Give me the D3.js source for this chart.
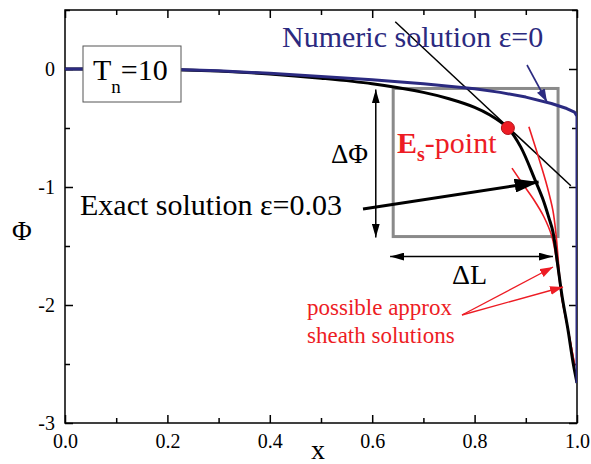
<!DOCTYPE html>
<html>
<head>
<meta charset="utf-8">
<script src="https://cdn.jsdelivr.net/npm/d3@7/dist/d3.min.js"></script>
<style>
  html, body { margin: 0; padding: 0; background: #fff; }
  svg { display: block; }
</style>
</head>
<body>
<svg id="chart" width="591" height="464"></svg>
<script>
// Axis ticks
const xMajorTicks = [0, 0.2, 0.4, 0.6, 0.8, 1.0];
const xMinorTicks = [0.1, 0.3, 0.5, 0.7, 0.9];
const yMajorTicks = [0, -1, -2, -3];
const yMinorTicks = [0.5, -0.5, -1.5, -2.5];

// Numeric solution, eps = 0
const numericX   = [0, 0.1, 0.2, 0.3, 0.4, 0.5, 0.6, 0.7, 0.8, 0.85, 0.9, 0.95, 0.98, 0.995, 1.0, 1.0, 1.0];
const numericPhi = [0, 0, -0.003, -0.015, -0.037, -0.063, -0.092, -0.125, -0.168, -0.198, -0.238, -0.292, -0.335, -0.365, -0.40, -1.5, -2.66];

// Exact solution, eps = 0.03
const exactX   = [0, 0.1, 0.2, 0.3, 0.4, 0.5, 0.6, 0.7, 0.75, 0.8, 0.83, 0.865, 0.89, 0.918, 0.934, 0.945, 0.953, 0.962, 0.971, 0.982, 0.992, 1.0];
const exactPhi = [0, 0, -0.004, -0.018, -0.042, -0.078, -0.125, -0.198, -0.252, -0.325, -0.39, -0.5, -0.66, -0.94, -1.11, -1.26, -1.38, -1.65, -1.93, -2.2, -2.48, -2.66];

// Approximate sheath solutions
const sheathAX   = [0.906, 0.925, 0.942, 0.953, 0.959, 0.964, 0.970, 0.983, 0.996];
const sheathAPhi = [-0.49, -0.75, -1.0, -1.2, -1.4, -1.65, -1.93, -2.22, -2.52];
const sheathBX   = [0.873, 0.895, 0.916, 0.935, 0.951, 0.961, 0.970, 0.983, 0.995];
const sheathBPhi = [-0.84, -0.98, -1.11, -1.25, -1.42, -1.65, -1.93, -2.22, -2.5];

// Tangent at the E_s point
const tangentX   = [0.645, 0.988];
const tangentPhi = [0.40, -0.99];
const esPointX = 0.865, esPointPhi = -0.5;

// Sheath region box and its extents
const boxX = [0.641, 0.963];
const boxPhi = [-0.165, -1.42];
const deltaPhiX = 0.607;
const deltaLPhi = -1.59;
const deltaLX = [0.635, 0.953];

const W = 591, H = 464;
const margin = { left: 65, right: 14, top: 10, bottom: 41 };
const FONT = "'Liberation Serif', 'DejaVu Serif', 'Times New Roman', serif";
const svg = d3.select("#chart").attr("font-family", FONT).style("font-family", FONT);

const x = d3.scaleLinear().domain([0, 1]).range([margin.left, W - margin.right]);
const y = d3.scaleLinear().domain([-3, 0.5]).range([H - margin.bottom, margin.top]);

const navy = "#2b2a80";
const red = "#ed1c24";
const grey = "#8a8a8a";

// Arrowhead markers
const defs = svg.append("defs");
function marker(id, color, w, h) {
  defs.append("marker")
    .attr("id", id)
    .attr("viewBox", `0 0 ${w} ${h}`)
    .attr("refX", w).attr("refY", h / 2)
    .attr("markerWidth", w).attr("markerHeight", h)
    .attr("markerUnits", "userSpaceOnUse")
    .attr("orient", "auto-start-reverse")
    .append("path")
    .attr("d", `M0,0 L${w},${h / 2} L0,${h} Z`)
    .attr("fill", color);
}
marker("arrBlack", "#000", 24, 14);
marker("arrDim", "#000", 14, 8);
marker("arrRed", red, 13, 9);
marker("arrNavy", navy, 13, 9);

defs.append("clipPath").attr("id", "plotClip")
  .append("rect")
  .attr("x", x(0)).attr("y", y(0.5))
  .attr("width", x(1) - x(0)).attr("height", y(-3) - y(0.5));

// Axes: ticks point inward on all four sides
const minusHyphen = f => v => f(v).replace("−", "-");
function drawAxis(gen, transform, major, minor, fmt, pad) {
  const g1 = svg.append("g").attr("transform", transform)
    .call(gen.tickValues(major).tickSizeInner(-8).tickSizeOuter(0).tickPadding(pad).tickFormat(fmt));
  const g2 = svg.append("g").attr("transform", transform)
    .call(gen.tickValues(minor).tickSizeInner(-5).tickSizeOuter(0).tickFormat(""));
  [g1, g2].forEach(g => {
    g.attr("font-family", FONT).attr("font-size", 20);
    g.select(".domain").remove();
    g.selectAll("line").attr("stroke", "#000").attr("stroke-width", 1.5);
    g.selectAll("text").style("font-family", FONT).attr("fill", "#000");
  });
  return g1;
}
drawAxis(d3.axisBottom(x), `translate(0,${y(-3)})`, xMajorTicks, xMinorTicks, minusHyphen(d3.format(".1f")), 11);
drawAxis(d3.axisTop(x), `translate(0,${y(0.5)})`, xMajorTicks, xMinorTicks, "", 0);
drawAxis(d3.axisLeft(y), `translate(${x(0)},0)`, yMajorTicks, yMinorTicks, minusHyphen(d3.format("d")), 10);
drawAxis(d3.axisRight(y), `translate(${x(1)},0)`, yMajorTicks, yMinorTicks, "", 0);

// Plot frame
svg.append("rect")
  .attr("x", x(0)).attr("y", y(0.5))
  .attr("width", x(1) - x(0)).attr("height", y(-3) - y(0.5))
  .attr("fill", "none").attr("stroke", "#000").attr("stroke-width", 1.5);

const plot = svg.append("g").attr("clip-path", "url(#plotClip)");
const smooth = d3.line().x(d => x(d[0])).y(d => y(d[1])).curve(d3.curveCatmullRom.alpha(0.5));
const straight = d3.line().x(d => x(d[0])).y(d => y(d[1]));
const zip = (a, b) => a.map((v, i) => [v, b[i]]);

// Sheath region box
plot.append("rect")
  .attr("x", x(boxX[0])).attr("y", y(boxPhi[0]))
  .attr("width", x(boxX[1]) - x(boxX[0])).attr("height", y(boxPhi[1]) - y(boxPhi[0]))
  .attr("fill", "none").attr("stroke", grey).attr("stroke-width", 3);

// Tangent line
plot.append("path").datum(zip(tangentX, tangentPhi))
  .attr("d", straight)
  .attr("fill", "none").attr("stroke", "#000").attr("stroke-width", 1.5);

// Approximate sheath solutions
[[sheathAX, sheathAPhi], [sheathBX, sheathBPhi]].forEach(([sx, sp]) => {
  plot.append("path").datum(zip(sx, sp))
    .attr("d", smooth).attr("fill", "none").attr("stroke", red).attr("stroke-width", 1.6);
});

// Exact solution
plot.append("path").datum(zip(exactX, exactPhi))
  .attr("d", smooth).attr("fill", "none").attr("stroke", "#000").attr("stroke-width", 3);

// Numeric solution
plot.append("path").datum(zip(numericX, numericPhi))
  .attr("d", straight)
  .attr("fill", "none").attr("stroke", navy).attr("stroke-width", 3).attr("stroke-linejoin", "round");

// E_s point
plot.append("circle")
  .attr("cx", x(esPointX)).attr("cy", y(esPointPhi)).attr("r", 6.5)
  .attr("fill", red).attr("stroke", "#b3121a").attr("stroke-width", 1);

// Dimension arrows
svg.append("line")
  .attr("x1", x(deltaPhiX)).attr("x2", x(deltaPhiX))
  .attr("y1", y(boxPhi[0]) + 1).attr("y2", y(boxPhi[1]) + 1)
  .attr("stroke", "#000").attr("stroke-width", 1.5)
  .attr("marker-start", "url(#arrDim)").attr("marker-end", "url(#arrDim)");
svg.append("line")
  .attr("x1", x(deltaLX[0])).attr("x2", x(deltaLX[1]))
  .attr("y1", y(deltaLPhi)).attr("y2", y(deltaLPhi))
  .attr("stroke", "#000").attr("stroke-width", 1.5)
  .attr("marker-start", "url(#arrDim)").attr("marker-end", "url(#arrDim)");

// Pointer arrows
svg.append("line")
  .attr("x1", 363).attr("y1", 209).attr("x2", x(0.925)).attr("y2", 182)
  .attr("stroke", "#000").attr("stroke-width", 3).attr("marker-end", "url(#arrBlack)");
svg.append("line")
  .attr("x1", 527).attr("y1", 65).attr("x2", 547).attr("y2", 102)
  .attr("stroke", navy).attr("stroke-width", 1.6).attr("marker-end", "url(#arrNavy)");
svg.append("line")
  .attr("x1", 462).attr("y1", 315).attr("x2", 553).attr("y2", 267)
  .attr("stroke", red).attr("stroke-width", 1.3).attr("marker-end", "url(#arrRed)");
svg.append("line")
  .attr("x1", 462).attr("y1", 315).attr("x2", 563).attr("y2", 287)
  .attr("stroke", red).attr("stroke-width", 1.3).attr("marker-end", "url(#arrRed)");

// Text helper
function label(xp, yp, size, color, str) {
  return svg.append("text").attr("x", xp).attr("y", yp)
    .attr("font-size", size).attr("fill", color)
    .style("font-family", FONT).text(str);
}

// Parameter box
svg.append("rect").attr("x", 83).attr("y", 46).attr("width", 98).attr("height", 56)
  .attr("fill", "#fff").attr("stroke", "#555").attr("stroke-width", 1);
const tn = label(93, 80, 30, "#000", null);
tn.append("tspan").text("T");
tn.append("tspan").attr("dy", 13).attr("font-size", 19).text("n");
tn.append("tspan").attr("dy", -13).text("=10");

// Labels
label(282, 47, 30, navy, "Numeric solution ε=0");
label(80, 215, 30, "#000", "Exact solution ε=0.03");
const es = label(397, 153, 30, red, null);
es.append("tspan").attr("font-weight", "bold").text("E");
es.append("tspan").attr("font-weight", "bold").attr("font-size", 20).attr("dy", 8).text("s");
es.append("tspan").attr("dy", -8).text("-point");
label(368, 163, 27, "#000", "ΔΦ").attr("text-anchor", "end");
label(452, 284, 28, "#000", "ΔL");
label(307, 315, 23, red, "possible approx");
label(307, 343, 23, red, "sheath solutions");

// Axis titles
label(12, 240, 27, "#000", "Φ");
label(311, 459, 28, "#000", "x");
</script>
</body>
</html>
